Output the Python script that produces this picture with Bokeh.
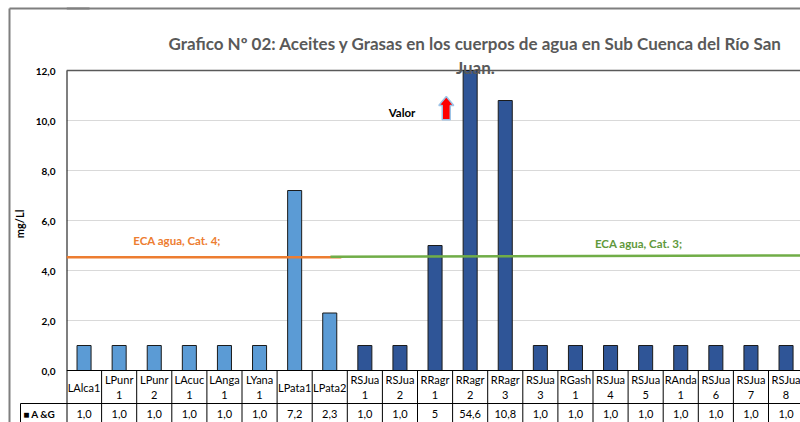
from bokeh.plotting import figure
from bokeh.models import Range1d, FixedTicker, LinearAxis
from bokeh.embed import file_html
from bokeh.resources import INLINE
from bokeh.core.properties import value

# ---------------- data ----------------
categories = ["LAlca1", "LPunr\n1", "LPunr\n2", "LAcuc\n1", "LAnga\n1", "LYana\n1",
              "LPata1", "LPata2", "RSJua\n1", "RSJua\n2", "RRagr\n1", "RRagr\n2",
              "RRagr\n3", "RSJua\n3", "RGash\n1", "RSJua\n4", "RSJua\n5", "RAnda\n1",
              "RSJua\n6", "RSJua\n7", "RSJua\n8"]
ag_values = [1.0, 1.0, 1.0, 1.0, 1.0, 1.0, 7.2, 2.3, 1.0, 1.0, 5.0, 54.6,
             10.8, 1.0, 1.0, 1.0, 1.0, 1.0, 1.0, 1.0, 1.0]
table_labels = ["1,0", "1,0", "1,0", "1,0", "1,0", "1,0", "7,2", "2,3", "1,0", "1,0",
                "5", "54,6", "10,8", "1,0", "1,0", "1,0", "1,0", "1,0", "1,0", "1,0", "1,0"]
series_name = "A &G"
y_ticks = [0, 2, 4, 6, 8, 10, 12]
y_tick_labels = ["0,0", "2,0", "4,0", "6,0", "8,0", "10,0", "12,0"]
eca4_x = [0.0, 7.83]
eca4_y = [4.53, 4.53]
eca3_x = [7.52, 21.0]
eca3_y = [4.55, 4.60]
title_line1 = "Grafico Nº 02: Aceites y Grasas en los cuerpos de agua en Sub Cuenca del Río San"
title_line2 = "Juan."
y_label = "mg/Ll"

# ---------------- layout constants ----------------
W, H = 800, 422
LEFT = 66            # px left of the plot area
CAT_PX = 35.1        # px per category
VAL_PX = 25.0        # px per mg/L
BASE_PX = 370        # px row of the zero line
Y_MAX = y_ticks[-1]
X_END = (W - LEFT) / CAT_PX
Y_START = -(H - BASE_PX) / VAL_PX
Y_END = Y_MAX + 70 / VAL_PX
BORDER_Y = Y_MAX + 62 / VAL_PX      # outer chart border (8 px from the top)
FONT = value("Lato")
LIGHT = "#5B9BD5"
DARK = "#2F5597"
GREY = "#7F7F7F"

CAT_ROW = -33 / VAL_PX        # bottom of the category row (table)
VAL_Y = -43 / VAL_PX          # centre of the value row

n = len(categories)
xs = [i + 0.5 for i in range(n)]
colors = [LIGHT if c.startswith("L") else DARK for c in categories]
shown_top = [min(v, Y_MAX) for v in ag_values]   # the off-scale bar is cut at the top of the axis

p = figure(width=W, height=H, x_range=Range1d(0, X_END), y_range=Range1d(Y_START, Y_END),
           x_axis_location=None, output_backend="svg", toolbar_location=None,
           min_border_left=LEFT, min_border_right=0, min_border_top=0, min_border_bottom=0)
p.outline_line_color = None
p.xgrid.visible = False
p.ygrid.ticker = FixedTicker(ticks=y_ticks[1:-1])
p.ygrid.grid_line_color = "#D9D9D9"
p.ygrid.grid_line_width = 1

# main y axis (its extra tick doubles as the data-table row header)
ax = p.yaxis[0]
ax.ticker = FixedTicker(ticks=y_ticks + [VAL_Y])
overrides = {t: l for t, l in zip(y_ticks, y_tick_labels)}
overrides[VAL_Y] = "■ " + series_name
ax.major_label_overrides = overrides
ax.major_tick_out = 0
ax.major_tick_in = 0
ax.minor_tick_out = 0
ax.minor_tick_in = 0
ax.major_label_standoff = 11
ax.major_label_text_font = "Lato"
ax.major_label_text_font_style = "bold"
ax.major_label_text_font_size = "10px"
ax.major_label_text_color = "black"
ax.axis_line_color = None

# second left axis: left edge of the table's row-header cell + the y-axis title
cell = LinearAxis(ticker=FixedTicker(ticks=[CAT_ROW]), bounds=(Y_START, CAT_ROW),
                  major_label_overrides={CAT_ROW: ""}, major_label_standoff=0,
                  major_tick_in=60, major_tick_out=0, minor_tick_in=0, minor_tick_out=0,
                  major_tick_line_color="black", major_tick_line_width=1,
                  axis_line_color="black", axis_line_width=1,
                  axis_label=y_label + "\u2003\u2003\u2003", axis_label_standoff=-5,
                  axis_label_text_font="Lato", axis_label_text_font_style="bold",
                  axis_label_text_font_size="11px", axis_label_text_color="black")
p.add_layout(cell, "left")

# third left axis: outer border of the chart area
outer = LinearAxis(ticker=FixedTicker(ticks=[BORDER_Y]), bounds=(Y_START, BORDER_Y),
                   major_label_overrides={BORDER_Y: ""}, major_label_standoff=0,
                   major_tick_in=80, major_tick_out=0, minor_tick_in=0, minor_tick_out=0,
                   major_tick_line_color=GREY, major_tick_line_width=2,
                   axis_line_color=GREY, axis_line_width=2)
p.add_layout(outer, "left")

# outer border top line, plot-area borders
p.segment(x0=[0], y0=[BORDER_Y], x1=[n], y1=[BORDER_Y], line_color=GREY, line_width=2)
p.segment(x0=[0], y0=[0], x1=[0], y1=[Y_MAX], line_color="black", line_width=2)
p.segment(x0=[0], y0=[Y_MAX], x1=[n], y1=[Y_MAX], line_color="#595959", line_width=1.5)

# bars
p.vbar(x=xs, top=shown_top, width=0.4, fill_color=colors, line_color="#1b1b1b", line_width=1)

# ECA reference lines
p.line(eca4_x, eca4_y, line_color="#ED7D31", line_width=2.5)
p.line(eca3_x, eca3_y, line_color="#70AD47", line_width=2.5)

def label(x, y, txt, color, size):
    p.text(x=[x], y=[y], text=[txt], text_align="center", text_baseline="middle",
           text_font=FONT, text_font_style="bold", text_font_size=size, text_color=color)

label(3.15, 5.2, "ECA agua, Cat. 4;", "#ED7D31", "11.5px")
label(16.3, 5.09, "ECA agua, Cat. 3;", "#61993B", "11.5px")
label(9.56, 10.32, "Valor", "black", "11.5px")
label(11.65, 13.08, title_line1, "#595959", "17px")
label(11.65, 12.12, title_line2, "#595959", "17px")

# red "off-scale" arrow beside the clipped bar
ax0, ab, am, at = 10.82, 10.03, 10.6, 10.96
sw, hw = 0.114, 0.214
p.patch([ax0 - sw, ax0 + sw, ax0 + sw, ax0 + hw, ax0, ax0 - hw, ax0 - sw],
        [ab, ab, am, am, at, am, am], fill_color="#FF0000", line_color="#9DC3E6", line_width=1.5)

# ---------------- data table ----------------
p.segment(x0=[0, 0], y0=[0, CAT_ROW], x1=[n, n], y1=[0, CAT_ROW], line_color="black", line_width=1)
p.segment(x0=list(range(n + 1)), y0=[0] * (n + 1), x1=list(range(n + 1)), y1=[Y_START] * (n + 1),
          line_color="black", line_width=[2] + [1] * n)
p.text(x=xs, y=[CAT_ROW / 2] * n, text=categories, text_align="center", text_baseline="middle",
       text_font=FONT, text_font_size="11px", text_color="black", text_line_height=1.2)
p.text(x=xs, y=[VAL_Y] * n, text=table_labels, text_align="center", text_baseline="middle",
       text_font=FONT, text_font_size="11px", text_color="black")

open("out.html", "w").write(file_html(p, INLINE))
